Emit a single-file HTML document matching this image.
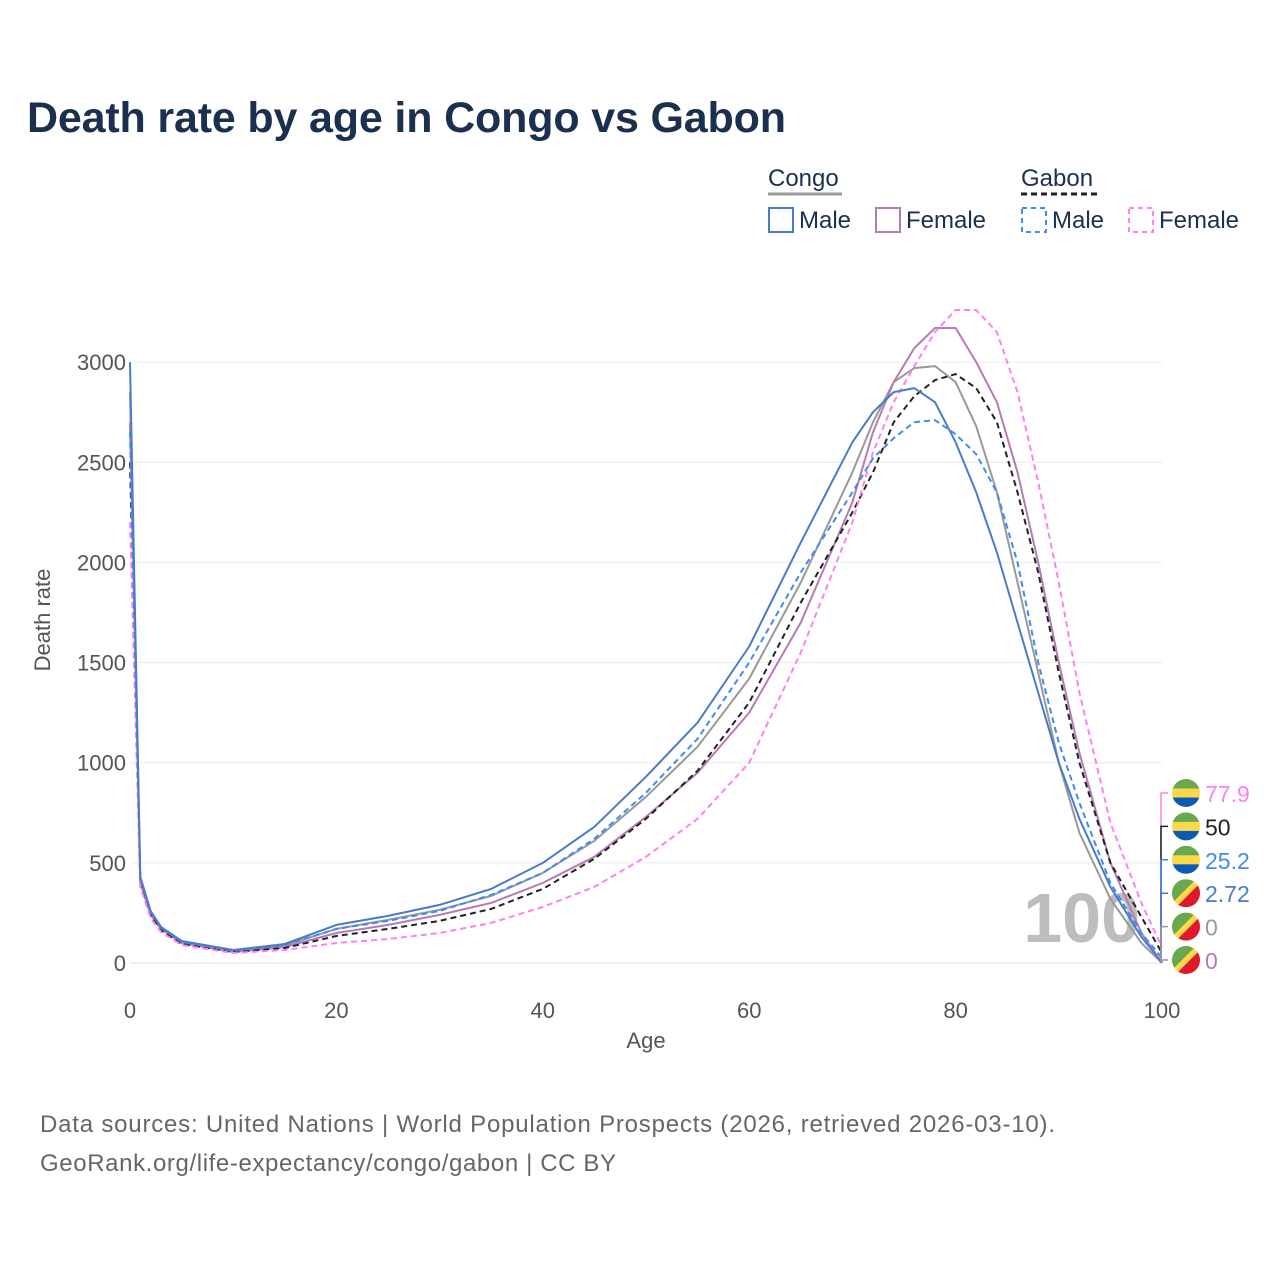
<!DOCTYPE html>
<html><head><meta charset="utf-8"><style>
body{margin:0;background:#fff;font-family:"Liberation Sans",sans-serif}
svg text{font-family:"Liberation Sans",sans-serif}
</style></head><body>
<svg id="chart" width="1280" height="1280" viewBox="0 0 1280 1280" xmlns="http://www.w3.org/2000/svg">
<rect width="1280" height="1280" fill="#fff"/>
<text x="27" y="132" font-size="43" font-weight="bold" fill="#1b2f4f" textLength="759">Death rate by age in Congo vs Gabon</text>
<g font-size="24" fill="#1b2f4f">
<text x="768" y="186">Congo</text>
<line x1="768" y1="194" x2="842" y2="194" stroke="#999" stroke-width="3"/>
<text x="1021" y="186">Gabon</text>
<line x1="1021" y1="194" x2="1097" y2="194" stroke="#222" stroke-width="3" stroke-dasharray="6,4"/>
<g><rect x="769" y="208" width="24" height="24" fill="none" stroke="#4a7bc8" stroke-width="2"/><text x="799" y="228">Male</text></g>
<g><rect x="876" y="208" width="24" height="24" fill="none" stroke="#b77bb3" stroke-width="2"/><text x="906" y="228">Female</text></g>
<g><rect x="1022" y="208" width="24" height="24" fill="none" stroke="#3f8cf0" stroke-width="2" stroke-dasharray="5,4"/><text x="1052" y="228">Male</text></g>
<g><rect x="1129" y="208" width="24" height="24" fill="none" stroke="#ff80f0" stroke-width="2" stroke-dasharray="5,4"/><text x="1159" y="228">Female</text></g>
</g>
<g id="grid"></g>
<text x="1140" y="942" font-size="70" font-weight="bold" fill="#bdbdbd" text-anchor="end">100</text>
<g id="lines"></g>
<g id="ends"></g>
<text transform="translate(50,620) rotate(-90)" font-size="22" fill="#555" text-anchor="middle">Death rate</text>
<text x="646" y="1048" font-size="22" fill="#555" text-anchor="middle">Age</text>
<text x="40" y="1132" font-size="24" fill="#666" textLength="1015">Data sources: United Nations | World Population Prospects (2026, retrieved 2026-03-10).</text>
<text x="40" y="1171" font-size="24" fill="#666" textLength="576">GeoRank.org/life-expectancy/congo/gabon | CC BY</text>
</svg>
<script>
const ages=[0,1,2,3,5,10,15,20,25,30,35,40,45,50,55,60,65,70,72,74,76,78,80,82,84,86,88,90,92,95,98,100];
const congoMale=[3000,430,260,180,110,65,95,190,235,290,370,500,680,930,1200,1580,2100,2600,2750,2850,2870,2800,2600,2350,2050,1700,1350,1000,720,380,130,3];
const congoFemale=[2700,400,240,170,100,55,80,150,190,240,300,400,530,730,950,1250,1700,2300,2650,2900,3070,3170,3170,3000,2800,2450,2000,1500,1050,500,150,0];
const congoTotal=[2850,415,250,175,105,60,88,170,215,265,335,450,610,830,1080,1420,1900,2450,2700,2900,2970,2980,2900,2680,2350,1900,1450,1000,650,320,100,0];
const gabonMale=[2650,420,255,175,105,60,90,170,210,260,340,450,620,850,1120,1500,1950,2350,2520,2620,2700,2710,2640,2540,2350,2000,1500,1100,800,400,150,25];
const gabonTotal=[2500,400,240,165,95,55,75,135,170,210,270,370,520,720,960,1300,1800,2250,2450,2700,2830,2910,2940,2870,2700,2350,1950,1450,1000,500,230,50];
const gabonFemale=[2200,380,225,155,90,50,65,100,120,150,200,280,380,530,720,1000,1550,2200,2550,2800,2980,3150,3260,3260,3150,2850,2400,1900,1350,700,300,78];
const yTicks=[0,500,1000,1500,2000,2500,3000];
const xTicks=[0,20,40,60,80,100];
const endLabels=["77.9","50","25.2","2.72","0","0"];
const NS="http://www.w3.org/2000/svg";
const X=a=>130+a*10.32, Y=v=>963-v*0.2003;
function mk(t,attrs,parent){const e=document.createElementNS(NS,t);for(const k in attrs)e.setAttribute(k,attrs[k]);parent.appendChild(e);return e;}
const grid=document.getElementById('grid');
yTicks.forEach(v=>{
 const l=mk('line',{x1:130,x2:1162,y1:Y(v),y2:Y(v),stroke:v===0?'#ddd':'#ebebeb','stroke-width':1},grid);
 
 
 const t=mk('text',{x:126,y:Y(v)+8,'font-size':22,fill:'#555','text-anchor':'end'},grid);t.textContent=v;
 
 
});
xTicks.forEach(v=>{
 const t=mk('text',{x:X(v),y:1018,'font-size':22,fill:'#555','text-anchor':'middle'},grid);t.textContent=v;
 
 
});
const series=[
 {d:gabonFemale,c:'#ff80f0',dash:'6,4',n:'gabon-female'},
 {d:gabonTotal,c:'#222',dash:'6,4',n:'gabon-total'},
 {d:gabonMale,c:'#3f8cf0',dash:'6,4',n:'gabon-male'},
 {d:congoMale,c:'#4a7bc8',dash:'',n:'congo-male'},
 {d:congoTotal,c:'#999',dash:'',n:'congo-total'},
 {d:congoFemale,c:'#b77bb3',dash:'',n:'congo-female'}];
const lg=document.getElementById('lines');
[4,5,1,0,2,3].forEach(i=>{const s=series[i];
 const p=mk('path',{d:s.d.map((v,j)=>(j?'L':'M')+X(ages[j]).toFixed(1)+','+Y(v).toFixed(1)).join(''),fill:'none',stroke:s.c,'stroke-width':2,'stroke-dasharray':s.dash,'stroke-linejoin':'round'},lg);
 
 
});
const eg=document.getElementById('ends');
series.forEach((s,i)=>{
 const cy=793+i*33.4, gab=i<3;
 const endY=Y(s.d[s.d.length-1]);
 mk('path',{d:`M1168,${cy}H1161V${endY}`,fill:'none',stroke:s.c,'stroke-width':1.5},eg);
 const g=mk('g',{},eg);
 
 
 const id='cl'+i;
 const cp=mk('clipPath',{id:id},g);mk('circle',{cx:1186,cy:cy,r:14},cp);
 const gg=mk('g',{'clip-path':`url(#${id})`},g);
 if(gab){mk('rect',{x:1172,y:cy-14,width:28,height:10,fill:'#6aa84f'},gg);mk('rect',{x:1172,y:cy-4.5,width:28,height:9,fill:'#fcd84a'},gg);mk('rect',{x:1172,y:cy+4.5,width:28,height:10,fill:'#0b5bb5'},gg);}
 else{mk('rect',{x:1172,y:cy-14,width:28,height:28,fill:'#fcd84a'},gg);
  mk('polygon',{points:`1172,${cy-14} 1196,${cy-14} 1172,${cy+10}`,fill:'#6aa84f'},gg);
  mk('polygon',{points:`1200,${cy-10} 1200,${cy+14} 1176,${cy+14}`,fill:'#dc1a2b'},gg);}
 const t=mk('text',{x:1205,y:cy+9,'font-size':23,fill:s.c},g);t.textContent=endLabels[i];
});
</script>
</body></html>
